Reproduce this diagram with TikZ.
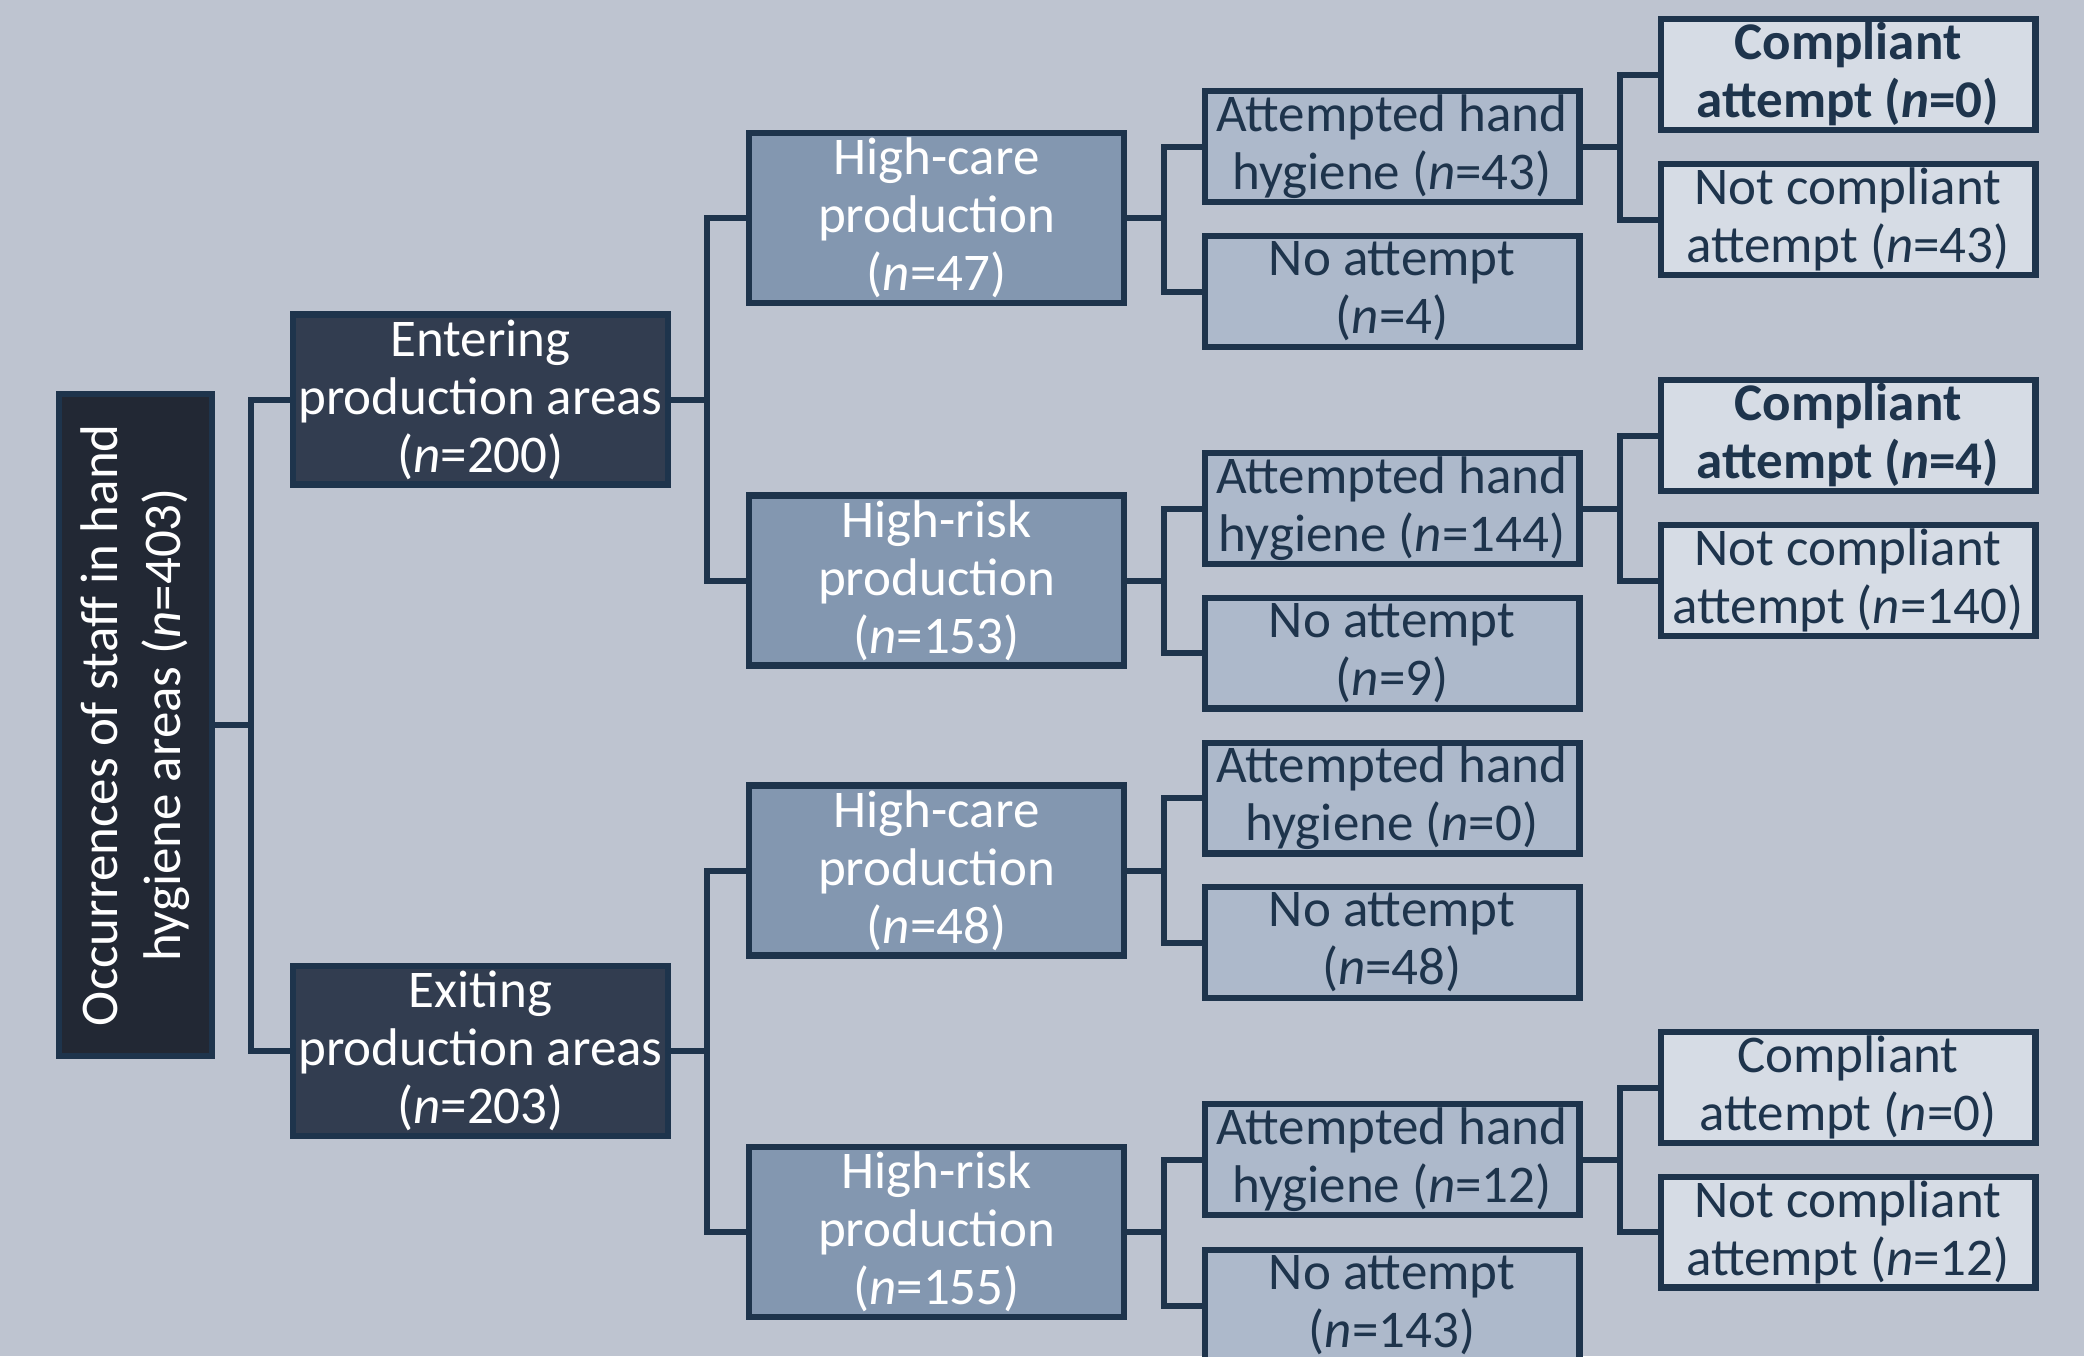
\documentclass[tikz,border=0pt]{standalone}
\usepackage{fontspec}
\setmainfont{Carlito}
\definecolor{bg}{HTML}{BEC4D0}
\definecolor{bord}{HTML}{1E344C}
\definecolor{c0}{HTML}{222834}
\definecolor{c1}{HTML}{323D50}
\definecolor{c2}{HTML}{8397B0}
\definecolor{c3}{HTML}{ADB9CB}
\definecolor{c4}{HTML}{D6DCE5}
\tikzset{
  box/.style={draw=bord, line width=3.2pt, inner sep=0pt, align=center, font=\fontsize{26.5}{29}\selectfont},
  rootbox/.style={box, fill=c0, minimum width=76.3pt, minimum height=330.8pt},
  lone/.style={box, fill=c1, text=white, minimum width=187.3pt, minimum height=85pt},
  ltwo/.style={box, fill=c2, text=white, minimum width=187.3pt, minimum height=85pt},
  lthree/.style={box, fill=c3, text=bord, minimum width=187.3pt, minimum height=55.3pt},
  lfour/.style={box, fill=c4, text=bord, minimum width=187.3pt, minimum height=55.3pt},
  lfourb/.style={lfour, font=\fontsize{26.5}{29}\selectfont\bfseries},
  conn/.style={draw=bord, line width=3pt},
}
\begin{document}
\begin{tikzpicture}[x=0.5pt,y=-0.5pt]
\clip (0,0) rectangle (2084,1356);
\path[use as bounding box, fill=bg] (0,0) rectangle (2084,1356);

\coordinate (x0) at (251,0);
\coordinate (x1) at (707,0);
\coordinate (x2) at (1164,0);
\coordinate (x3) at (1620,0);

% root
\node[rootbox] (root) at (135.5,725) {};
\node[rotate=90, text=white, inner sep=0pt, align=center, font=\fontsize{26.5}{31.5}\selectfont] (roottext) at (root.center) {Occurrences of staff in hand\\hygiene areas (\textit{n}=403)};

% level 1
\node[lone] (ent) at (480.5,399.5) {Entering\\production areas\\(\textit{n}=200)};
\node[lone] (exi) at (480.5,1051) {Exiting\\production areas\\(\textit{n}=203)};

% level 2
\node[ltwo] (hc1) at (936.5,218) {High-care\\production\\(\textit{n}=47)};
\node[ltwo] (hr1) at (936.5,580.5) {High-risk\\production\\(\textit{n}=153)};
\node[ltwo] (hc2) at (936.5,870.5) {High-care\\production\\(\textit{n}=48)};
\node[ltwo] (hr2) at (936.5,1232) {High-risk\\production\\(\textit{n}=155)};

% level 3
\node[lthree] (a1) at (1392,146.5) {Attempted hand\\hygiene (\textit{n}=43)};
\node[lthree] (n1) at (1392,291.5) {No attempt\\(\textit{n}=4)};
\node[lthree] (a2) at (1392,508.5) {Attempted hand\\hygiene (\textit{n}=144)};
\node[lthree] (n2) at (1392,653) {No attempt\\(\textit{n}=9)};
\node[lthree] (a3) at (1392,798) {Attempted hand\\hygiene (\textit{n}=0)};
\node[lthree] (n3) at (1392,942.5) {No attempt\\(\textit{n}=48)};
\node[lthree] (a4) at (1392,1159.5) {Attempted hand\\hygiene (\textit{n}=12)};
\node[lthree] (n4) at (1392,1305.5) {No attempt\\(\textit{n}=143)};

% level 4
\node[lfourb] (c1) at (1848,74.5) {Compliant\\attempt (\textit{n}=0)};
\node[lfour] (nc1) at (1848,219.5) {Not compliant\\attempt (\textit{n}=43)};
\node[lfourb] (c2) at (1848,435.5) {Compliant\\attempt (\textit{n}=4)};
\node[lfour] (nc2) at (1848,580.5) {Not compliant\\attempt (\textit{n}=140)};
\node[lfour] (c4) at (1848,1087.5) {Compliant\\attempt (\textit{n}=0)};
\node[lfour] (nc4) at (1848,1232) {Not compliant\\attempt (\textit{n}=12)};

% connectors
\draw[conn] (root.east) -- (root.east -| x0) |- (ent.west);
\draw[conn] (root.east -| x0) |- (exi.west);

\draw[conn] (ent.east) -- (ent.east -| x1) |- (hc1.west);
\draw[conn] (ent.east -| x1) |- (hr1.west);
\draw[conn] (exi.east) -- (exi.east -| x1) |- (hc2.west);
\draw[conn] (exi.east -| x1) |- (hr2.west);

\draw[conn] (hc1.east) -- (hc1.east -| x2) |- (a1.west);
\draw[conn] (hc1.east -| x2) |- (n1.west);
\draw[conn] (hr1.east) -- (hr1.east -| x2) |- (a2.west);
\draw[conn] (hr1.east -| x2) |- (n2.west);
\draw[conn] (hc2.east) -- (hc2.east -| x2) |- (a3.west);
\draw[conn] (hc2.east -| x2) |- (n3.west);
\draw[conn] (hr2.east) -- (hr2.east -| x2) |- (a4.west);
\draw[conn] (hr2.east -| x2) |- (n4.west);

\draw[conn] (a1.east) -- (a1.east -| x3) |- (c1.west);
\draw[conn] (a1.east -| x3) |- (nc1.west);
\draw[conn] (a2.east) -- (a2.east -| x3) |- (c2.west);
\draw[conn] (a2.east -| x3) |- (nc2.west);
\draw[conn] (a4.east) -- (a4.east -| x3) |- (c4.west);
\draw[conn] (a4.east -| x3) |- (nc4.west);
\end{tikzpicture}
\end{document}
